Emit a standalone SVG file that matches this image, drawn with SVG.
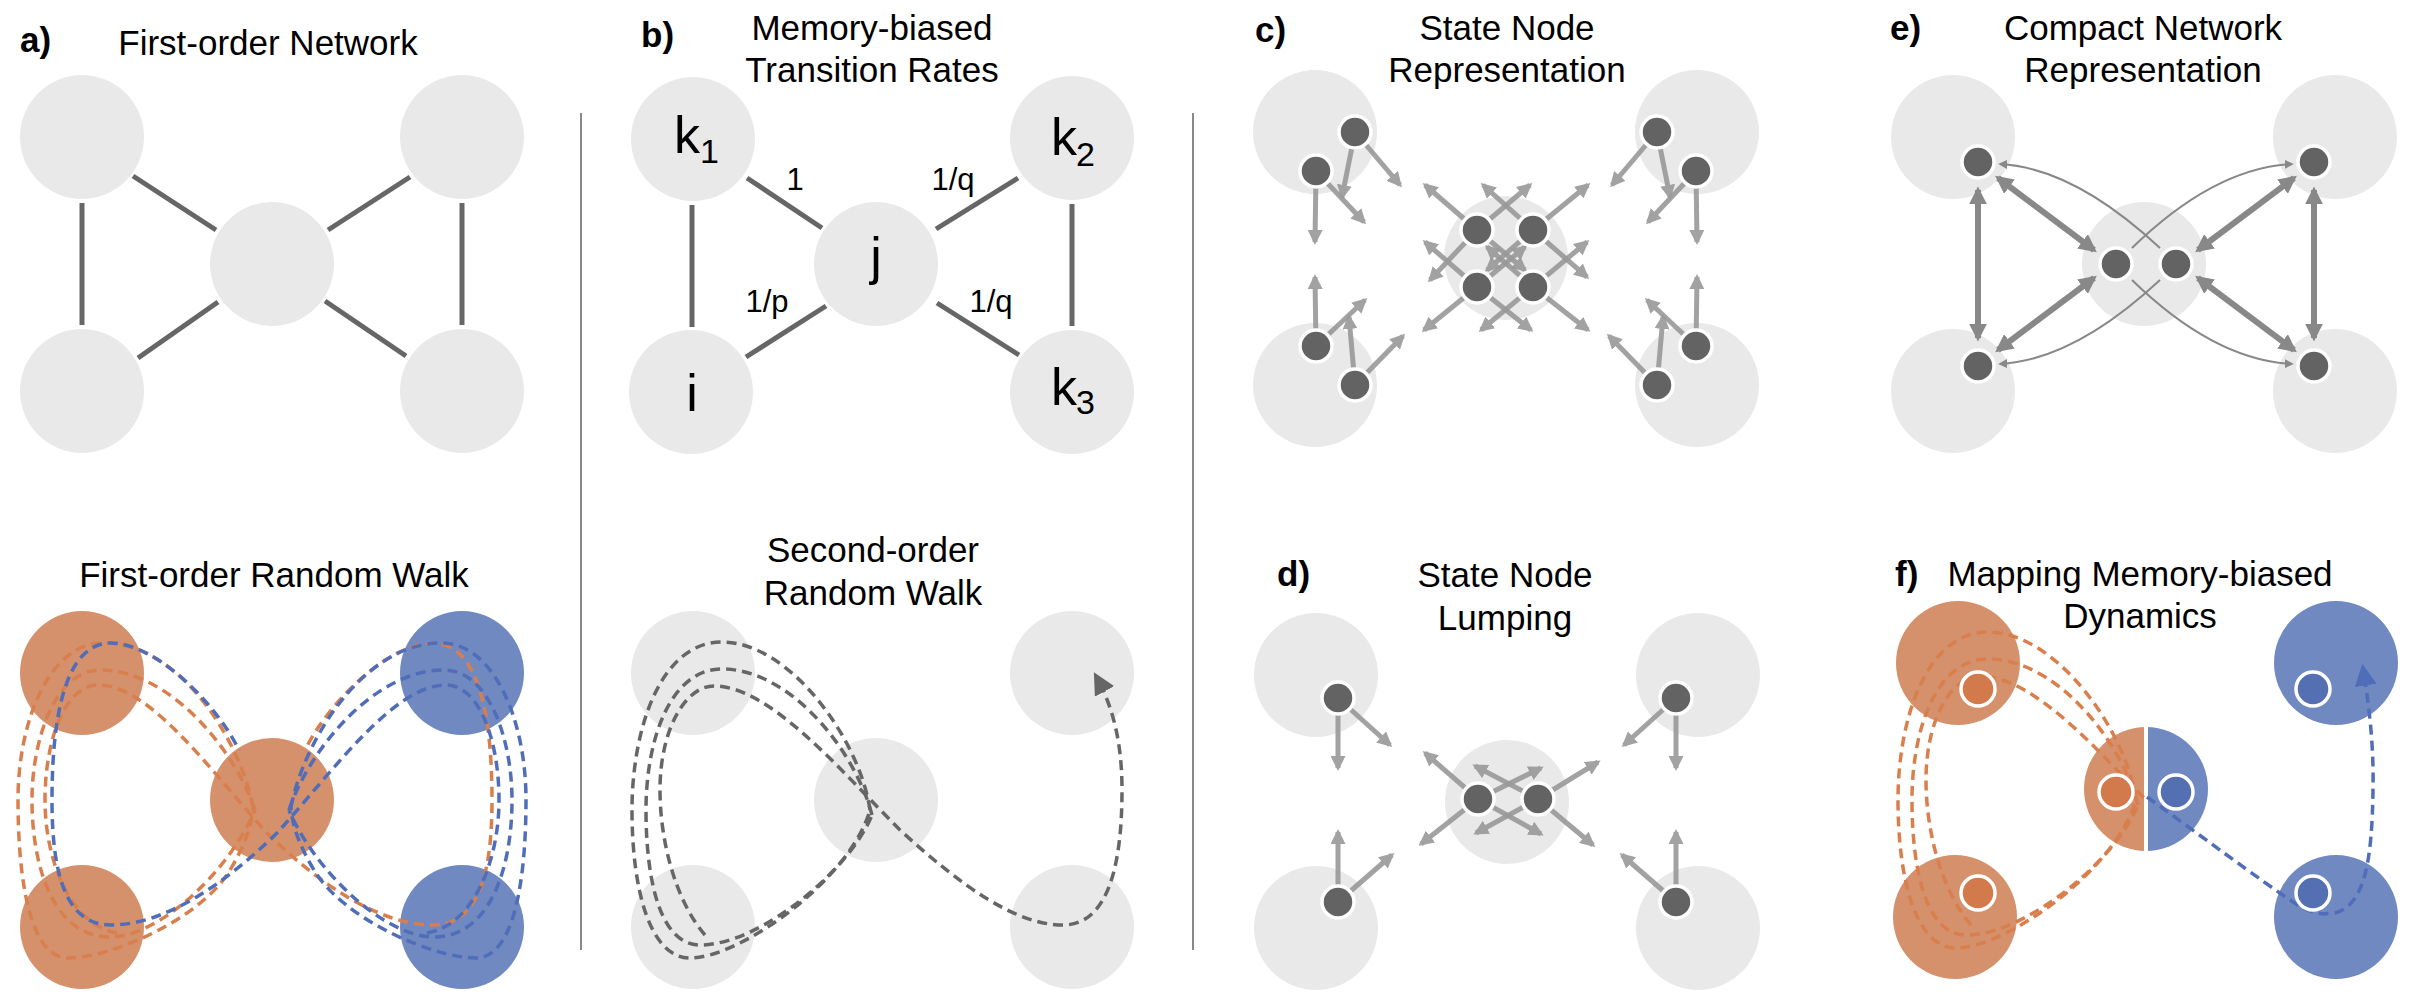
<svg xmlns="http://www.w3.org/2000/svg" width="2412" height="1002" viewBox="0 0 2412 1002">
<style>
text{font-family:"Liberation Sans",Arial,sans-serif;fill:#000}
.t{font-size:35px;text-anchor:middle}
.lb{font-size:35px;font-weight:bold}
.nl{font-size:52px}
.sub{font-size:34px}
.el{font-size:31px}
.bg{fill:#e9e9e9}
.ed{stroke:#666;stroke-width:5}
.sep{stroke:#888;stroke-width:2}
.sn{fill:#636363;stroke:#fff;stroke-width:3.5}
.ar{stroke:#999;stroke-width:5;marker-end:url(#ah);opacity:.9}
.tk{stroke:#888;stroke-width:6;marker-end:url(#ah2);marker-start:url(#ah2)}
.tn{stroke:#888;stroke-width:2;fill:none;marker-end:url(#ah3)}
.dO{fill:none;stroke:#d87f4d;stroke-width:3.5;stroke-dasharray:10 6}
.dB{fill:none;stroke:#4f6db8;stroke-width:3.5;stroke-dasharray:10 6}
.dG{fill:none;stroke:#666;stroke-width:3.5;stroke-dasharray:10 6}
.or{fill:#d5916b}
.bl{fill:#7189c1}
.so{fill:#d27a4b;stroke:#fff;stroke-width:3.5}
.sb{fill:#5470b2;stroke:#fff;stroke-width:3.5}
</style>
<defs>
<marker id="ah" viewBox="0 0 10 10" refX="8" refY="5" markerWidth="3" markerHeight="3" orient="auto"><path d="M0,0L10,5L0,10z" fill="#999"/></marker>
<marker id="ah2" viewBox="0 0 10 10" refX="8" refY="5" markerWidth="3" markerHeight="3" orient="auto-start-reverse"><path d="M0,0L10,5L0,10z" fill="#888"/></marker>
<marker id="ah3" viewBox="0 0 10 10" refX="8" refY="5" markerWidth="4.5" markerHeight="4.5" orient="auto"><path d="M0,0L10,5L0,10z" fill="#888"/></marker>
<marker id="ahG" viewBox="0 0 10 10" refX="8" refY="5" markerWidth="6" markerHeight="6" markerUnits="userSpaceOnUse" orient="auto"><path d="M0,0L10,5L0,10z" fill="#666"/></marker>
<marker id="ahGs" viewBox="0 0 10 10" refX="8" refY="5" markerWidth="22" markerHeight="22" markerUnits="userSpaceOnUse" orient="auto"><path d="M0,0L10,5L0,10z" fill="#666"/></marker>
<marker id="ahBs" viewBox="0 0 10 10" refX="8" refY="5" markerWidth="22" markerHeight="22" markerUnits="userSpaceOnUse" orient="auto"><path d="M0,0L10,5L0,10z" fill="#4f6db8"/></marker>
</defs>

<g id="separators">
<line class="sep" x1="581" y1="113" x2="581" y2="950"/>
<line class="sep" x1="1193" y1="113" x2="1193" y2="950"/>
</g>

<g id="titles">
<text class="lb" x="20" y="52">a)</text>
<text class="t" x="268" y="55">First-order Network</text>
<text class="t" x="274" y="587">First-order Random Walk</text>
<text class="lb" x="641" y="47">b)</text>
<text class="t" x="872" y="40">Memory-biased</text>
<text class="t" x="872" y="82">Transition Rates</text>
<text class="t" x="873" y="562">Second-order</text>
<text class="t" x="873" y="605">Random Walk</text>
<text class="lb" x="1255" y="42">c)</text>
<text class="t" x="1507" y="40">State Node</text>
<text class="t" x="1507" y="82">Representation</text>
<text class="lb" x="1277" y="586">d)</text>
<text class="t" x="1505" y="587">State Node</text>
<text class="t" x="1505" y="630">Lumping</text>
<text class="lb" x="1890" y="40">e)</text>
<text class="t" x="2143" y="40">Compact Network</text>
<text class="t" x="2143" y="82">Representation</text>
<text class="lb" x="1895" y="586">f)</text>
<text class="t" x="2140" y="586">Mapping Memory-biased</text>
<text class="t" x="2140" y="628">Dynamics</text>
</g>

<!-- panel a -->
<g id="a-nodes">
<circle class="bg" cx="82" cy="137" r="62"/><circle class="bg" cx="462" cy="137" r="62"/>
<circle class="bg" cx="272" cy="264" r="62"/>
<circle class="bg" cx="82" cy="391" r="62"/><circle class="bg" cx="462" cy="391" r="62"/>
</g>
<g id="a-edges">
<line class="ed" x1="82" y1="203" x2="82" y2="325"/>
<line class="ed" x1="462" y1="203" x2="462" y2="325"/>
<line class="ed" x1="133" y1="176" x2="216" y2="230"/>
<line class="ed" x1="328" y1="230" x2="410" y2="177"/>
<line class="ed" x1="218" y1="302" x2="138" y2="358"/>
<line class="ed" x1="325" y1="301" x2="406" y2="356"/>
</g>

<!-- panel a bottom -->
<g id="a2-nodes">
<circle class="or" cx="82" cy="673" r="62"/><circle class="bl" cx="462" cy="673" r="62"/>
<circle class="or" cx="272" cy="800" r="62"/>
<circle class="or" cx="82" cy="927" r="62"/><circle class="bl" cx="462" cy="927" r="62"/>
</g>
<g id="a2-walks">
<path class="dO" d="M253,807 C240,740 180,643 103,643 C50,643 18,720 18,800 C18,880 30,958 68,958 C110,958 200,920 230,870 C245,845 252,825 253,807"/>
<path class="dO" d="M255,810 C235,750 170,670 100,670 C55,670 32,740 32,800 C32,870 55,937 110,937 C160,937 230,870 255,810"/>
<path class="dO" d="M117,933 C70,925 45,860 45,800 C45,740 65,685 98,685 C150,685 210,770 267,833 C320,885 380,925 433,925 C480,925 492,870 492,800 C492,720 480,643 433,643 C390,643 330,700 305,750"/>
<g transform="translate(544,0) scale(-1,1)">
<path class="dB" d="M253,807 C240,740 180,643 103,643 C50,643 18,720 18,800 C18,880 30,958 68,958 C110,958 200,920 230,870 C245,845 252,825 253,807"/>
<path class="dB" d="M255,810 C235,750 170,670 100,670 C55,670 32,740 32,800 C32,870 55,937 110,937 C160,937 230,870 255,810"/>
<path class="dB" d="M117,933 C70,925 45,860 45,800 C45,740 65,685 98,685 C150,685 210,770 267,833 C320,885 380,925 433,925 C480,925 492,870 492,800 C492,720 480,643 433,643 C390,643 330,700 305,750"/>
</g>
</g>

<!-- panel b -->
<g id="b-nodes">
<circle class="bg" cx="693" cy="139" r="62"/><circle class="bg" cx="1072" cy="138" r="62"/>
<circle class="bg" cx="876" cy="264" r="62"/>
<circle class="bg" cx="691" cy="392" r="62"/><circle class="bg" cx="1072" cy="392" r="62"/>
<text class="nl" x="674" y="153">k</text><text class="sub" x="700" y="163">1</text>
<text class="nl" x="1051" y="155">k</text><text class="sub" x="1076" y="166">2</text>
<text class="nl" x="1051" y="405">k</text><text class="sub" x="1076" y="414">3</text>
<text class="nl" x="876" y="274" text-anchor="middle">j</text>
<text class="nl" x="692" y="411" text-anchor="middle">i</text>
</g>
<g id="b-edges">
<line class="ed" x1="692" y1="205" x2="692" y2="327"/>
<line class="ed" x1="1072" y1="204" x2="1072" y2="326"/>
<line class="ed" x1="747" y1="178" x2="822" y2="228"/>
<line class="ed" x1="936" y1="229" x2="1018" y2="178"/>
<line class="ed" x1="746" y1="357" x2="826" y2="306"/>
<line class="ed" x1="937" y1="303" x2="1019" y2="355"/>
<text class="el" x="795" y="190" text-anchor="middle">1</text>
<text class="el" x="953" y="190" text-anchor="middle">1/q</text>
<text class="el" x="767" y="312" text-anchor="middle">1/p</text>
<text class="el" x="991" y="312" text-anchor="middle">1/q</text>
</g>

<!-- panel b bottom -->
<g id="b2-nodes">
<circle class="bg" cx="693" cy="673" r="62"/><circle class="bg" cx="1072" cy="673" r="62"/>
<circle class="bg" cx="876" cy="800" r="62"/>
<circle class="bg" cx="693" cy="927" r="62"/><circle class="bg" cx="1072" cy="927" r="62"/>
</g>
<g id="b2-walk">
<path class="dG" d="M870,810 C860,740 790,642 722,642 C660,642 632,730 632,810 C632,890 650,958 690,958 C740,958 850,880 870,810"/>
<path class="dG" d="M872,815 C855,750 790,669 722,669 C670,669 646,740 646,810 C646,880 660,945 700,945 C760,945 850,870 872,815"/>
<path class="dG" d="M705,935 C675,900 660,840 660,790 C660,730 685,686 714,686 C770,686 840,770 900,830 C960,885 1015,925 1063,925 C1110,925 1122,860 1122,790 C1122,740 1112,705 1096,676" marker-end="url(#ahGs)"/>
</g>

<!-- panel c -->
<g id="c-bg">
<circle class="bg" cx="1315" cy="132" r="62"/><circle class="bg" cx="1697" cy="132" r="62"/>
<circle class="bg" cx="1506" cy="258" r="62"/>
<circle class="bg" cx="1315" cy="385" r="62"/><circle class="bg" cx="1697" cy="385" r="62"/>
</g>
<g id="c-arrows">
<g id="c-right">
<line class="ar" x1="1657" y1="132" x2="1612" y2="185"/>
<line class="ar" x1="1657" y1="132" x2="1670" y2="197"/>
<line class="ar" x1="1696" y1="171" x2="1648" y2="222"/>
<line class="ar" x1="1696" y1="171" x2="1697" y2="242"/>
<line class="ar" x1="1696" y1="346" x2="1697" y2="277"/>
<line class="ar" x1="1696" y1="346" x2="1647" y2="300"/>
<line class="ar" x1="1657" y1="385" x2="1663" y2="317"/>
<line class="ar" x1="1657" y1="385" x2="1609" y2="336"/>
</g>
<g transform="translate(3012,0) scale(-1,1)">
<line class="ar" x1="1657" y1="132" x2="1612" y2="185"/>
<line class="ar" x1="1657" y1="132" x2="1670" y2="197"/>
<line class="ar" x1="1696" y1="171" x2="1648" y2="222"/>
<line class="ar" x1="1696" y1="171" x2="1697" y2="242"/>
<line class="ar" x1="1696" y1="346" x2="1697" y2="277"/>
<line class="ar" x1="1696" y1="346" x2="1647" y2="300"/>
<line class="ar" x1="1657" y1="385" x2="1663" y2="317"/>
<line class="ar" x1="1657" y1="385" x2="1609" y2="336"/>
</g>
<line class="ar" x1="1477" y1="230" x2="1425" y2="185"/>
<line class="ar" x1="1477" y1="230" x2="1530" y2="185"/>
<line class="ar" x1="1477" y1="230" x2="1430" y2="280"/>
<line class="ar" x1="1477" y1="230" x2="1525" y2="270"/>
<line class="ar" x1="1533" y1="230" x2="1483" y2="185"/>
<line class="ar" x1="1533" y1="230" x2="1588" y2="185"/>
<line class="ar" x1="1533" y1="230" x2="1587" y2="277"/>
<line class="ar" x1="1533" y1="230" x2="1487" y2="270"/>
<line class="ar" x1="1477" y1="287" x2="1425" y2="242"/>
<line class="ar" x1="1477" y1="287" x2="1424" y2="330"/>
<line class="ar" x1="1477" y1="287" x2="1531" y2="330"/>
<line class="ar" x1="1477" y1="287" x2="1525" y2="247"/>
<line class="ar" x1="1533" y1="287" x2="1587" y2="242"/>
<line class="ar" x1="1533" y1="287" x2="1588" y2="330"/>
<line class="ar" x1="1533" y1="287" x2="1481" y2="330"/>
<line class="ar" x1="1533" y1="287" x2="1487" y2="247"/>
</g>
<g id="c-nodes">
<circle class="sn" cx="1657" cy="132" r="16"/><circle class="sn" cx="1696" cy="171" r="16"/>
<circle class="sn" cx="1696" cy="346" r="16"/><circle class="sn" cx="1657" cy="385" r="16"/>
<circle class="sn" cx="1355" cy="132" r="16"/><circle class="sn" cx="1316" cy="171" r="16"/>
<circle class="sn" cx="1316" cy="346" r="16"/><circle class="sn" cx="1355" cy="385" r="16"/>
<circle class="sn" cx="1477" cy="230" r="16"/><circle class="sn" cx="1533" cy="230" r="16"/>
<circle class="sn" cx="1477" cy="287" r="16"/><circle class="sn" cx="1533" cy="287" r="16"/>
</g>

<!-- panel d -->
<g id="d-bg">
<circle class="bg" cx="1316" cy="675" r="62"/><circle class="bg" cx="1698" cy="675" r="62"/>
<circle class="bg" cx="1507" cy="802" r="62"/>
<circle class="bg" cx="1316" cy="928" r="62"/><circle class="bg" cx="1698" cy="928" r="62"/>
</g>
<g id="d-arrows">
<line class="ar" x1="1676" y1="698" x2="1624" y2="745"/>
<line class="ar" x1="1676" y1="698" x2="1676" y2="768"/>
<line class="ar" x1="1676" y1="902" x2="1676" y2="832"/>
<line class="ar" x1="1676" y1="902" x2="1622" y2="855"/>
<g transform="translate(3014,0) scale(-1,1)">
<line class="ar" x1="1676" y1="698" x2="1624" y2="745"/>
<line class="ar" x1="1676" y1="698" x2="1676" y2="768"/>
<line class="ar" x1="1676" y1="902" x2="1676" y2="832"/>
<line class="ar" x1="1676" y1="902" x2="1622" y2="855"/>
</g>
<line class="ar" x1="1478" y1="799" x2="1425" y2="753"/>
<line class="ar" x1="1478" y1="799" x2="1421" y2="844"/>
<line class="ar" x1="1478" y1="799" x2="1541" y2="768"/>
<line class="ar" x1="1478" y1="799" x2="1541" y2="834"/>
<line class="ar" x1="1538" y1="799" x2="1598" y2="762"/>
<line class="ar" x1="1538" y1="799" x2="1593" y2="845"/>
<line class="ar" x1="1538" y1="799" x2="1475" y2="766"/>
<line class="ar" x1="1538" y1="799" x2="1476" y2="833"/>
</g>
<g id="d-nodes">
<circle class="sn" cx="1676" cy="698" r="16"/><circle class="sn" cx="1676" cy="902" r="16"/>
<circle class="sn" cx="1338" cy="698" r="16"/><circle class="sn" cx="1338" cy="902" r="16"/>
<circle class="sn" cx="1478" cy="799" r="16"/><circle class="sn" cx="1538" cy="799" r="16"/>
</g>

<!-- panel e -->
<g id="e-bg">
<circle class="bg" cx="1953" cy="137" r="62"/><circle class="bg" cx="2335" cy="137" r="62"/>
<circle class="bg" cx="2144" cy="264" r="62"/>
<circle class="bg" cx="1953" cy="391" r="62"/><circle class="bg" cx="2335" cy="391" r="62"/>
</g>
<g id="e-links">
<line class="tk" x1="1978" y1="190" x2="1978" y2="338"/>
<line class="tk" x1="2314" y1="190" x2="2314" y2="338"/>
<line class="tk" x1="1998" y1="178" x2="2094" y2="250"/>
<line class="tk" x1="1998" y1="350" x2="2094" y2="278"/>
<line class="tk" x1="2294" y1="178" x2="2198" y2="250"/>
<line class="tk" x1="2294" y1="350" x2="2198" y2="278"/>
<path class="tn" d="M2160,248 Q2074,168 2000,164"/>
<path class="tn" d="M2132,248 Q2214,168 2292,164"/>
<path class="tn" d="M2132,280 Q2214,360 2292,364"/>
<path class="tn" d="M2160,280 Q2074,360 2000,364"/>
</g>
<g id="e-nodes">
<circle class="sn" cx="1978" cy="162" r="16"/><circle class="sn" cx="2314" cy="162" r="16"/>
<circle class="sn" cx="1978" cy="366" r="16"/><circle class="sn" cx="2314" cy="366" r="16"/>
<circle class="sn" cx="2116" cy="264" r="16"/><circle class="sn" cx="2176" cy="264" r="16"/>
</g>

<!-- panel f -->
<g id="f-bg">
<circle class="or" cx="1958" cy="663" r="62"/><circle class="bl" cx="2336" cy="663" r="62"/>
<circle class="or" cx="1955" cy="917" r="62"/><circle class="bl" cx="2336" cy="917" r="62"/>
<path class="or" d="M2146,727 A62,62 0 0 0 2146,851 Z"/>
<path class="bl" d="M2146,727 A62,62 0 0 1 2146,851 Z"/>
<line x1="2146" y1="725" x2="2146" y2="853" stroke="#fff" stroke-width="4"/>
</g>
<g id="f-walk">
<g transform="translate(1266,-10)">
<path class="dO" d="M870,810 C860,740 790,642 722,642 C660,642 632,730 632,810 C632,890 650,958 690,958 C740,958 850,880 870,810"/>
<path class="dO" d="M872,815 C855,750 790,669 722,669 C670,669 646,740 646,810 C646,880 660,945 700,945 C760,945 850,870 872,815"/>
<path class="dO" d="M705,935 C675,900 660,840 660,790 C660,730 685,686 714,686 C770,686 840,770 880,810"/>
</g>
<path class="dB" d="M2147,797 C2200,835 2260,880 2293,902 C2310,913 2320,915 2335,913 C2365,905 2372,860 2373,790 C2374,740 2368,700 2363,668" marker-end="url(#ahBs)"/>
</g>
<g id="f-nodes">
<circle class="so" cx="1978" cy="689" r="17"/><circle class="so" cx="1978" cy="893" r="17"/>
<circle class="so" cx="2116" cy="792" r="17"/><circle class="sb" cx="2176" cy="792" r="17"/>
<circle class="sb" cx="2313" cy="689" r="17"/><circle class="sb" cx="2313" cy="893" r="17"/>
</g>
</svg>
